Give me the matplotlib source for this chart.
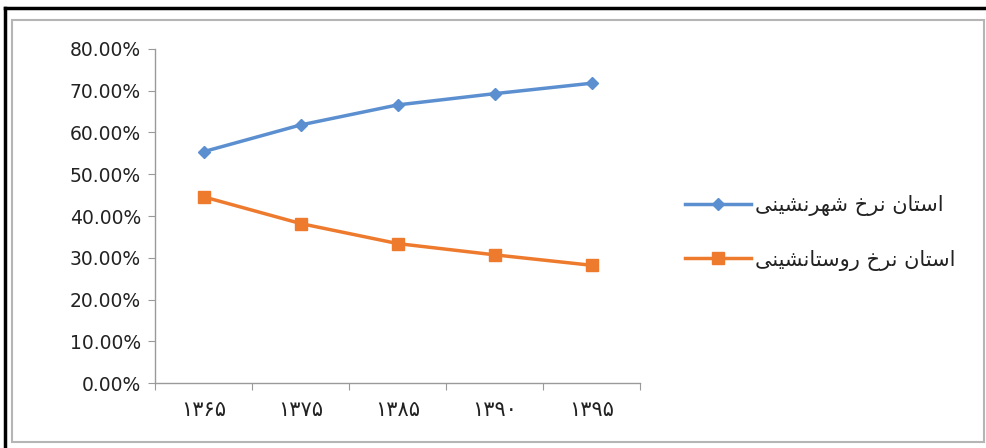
#!/usr/bin/env python3
"""Urban vs. rural population share of the province, 1365-1395 (Persian calendar)."""

import matplotlib.pyplot as plt
from matplotlib.patches import Rectangle
from matplotlib.ticker import FixedLocator, PercentFormatter

# Census years (Persian digits) and shares.
YEARS = ["۱۳۶۵", "۱۳۷۵", "۱۳۸۵", "۱۳۹۰", "۱۳۹۵"]
URBAN = [0.554, 0.618, 0.666, 0.693, 0.718]
RURAL = [0.446, 0.382, 0.334, 0.307, 0.282]
URBAN_LABEL = "استان نرخ شهرنشینی"
RURAL_LABEL = "استان نرخ روستانشینی"

BLUE = "#5B8FD0"
ORANGE = "#EE7A2E"

# Presentation forms (isolated, final, initial, medial); None = right-joining only.
FORMS = {
    "ا": (0xFE8D, 0xFE8E, None, None),
    "ر": (0xFEAD, 0xFEAE, None, None),
    "و": (0xFEED, 0xFEEE, None, None),
    "س": (0xFEB1, 0xFEB2, 0xFEB3, 0xFEB4),
    "ت": (0xFE95, 0xFE96, 0xFE97, 0xFE98),
    "ن": (0xFEE5, 0xFEE6, 0xFEE7, 0xFEE8),
    "خ": (0xFEA5, 0xFEA6, 0xFEA7, 0xFEA8),
    "ش": (0xFEB5, 0xFEB6, 0xFEB7, 0xFEB8),
    "ه": (0xFEE9, 0xFEEA, 0xFEEB, 0xFEEC),
    "ی": (0xFBFC, 0xFBFD, 0xFBFE, 0xFBFF),
}


def shape(text):
    """Tiny Persian shaper: contextual forms, then reverse for LTR drawing."""
    out = []
    for i, ch in enumerate(text):
        if ch not in FORMS:
            out.append(ch)
            continue
        prev = text[i - 1] if i > 0 else ""
        nxt = text[i + 1] if i + 1 < len(text) else ""
        join_prev = prev in FORMS and FORMS[prev][2] is not None
        join_next = FORMS[ch][2] is not None and nxt in FORMS
        iso, fin, ini, med = FORMS[ch]
        if join_prev and join_next:
            code = med
        elif join_prev:
            code = fin
        elif join_next:
            code = ini
        else:
            code = iso
        out.append(chr(code))
    return "".join(reversed(out))


fig = plt.figure(figsize=(9.86, 4.48), dpi=100)

# Scan frame: black border line on left/top, grey chart-area border.
fig.add_artist(plt.Line2D([5 / 986, 5 / 986], [0, 1 - 8 / 448], color="black", lw=2.5))
fig.add_artist(plt.Line2D([5 / 986, 1], [1 - 8 / 448, 1 - 8 / 448], color="black", lw=2.5))
fig.add_artist(Rectangle((12 / 986, 6 / 448), 972 / 986, 422 / 448,
                         fill=False, edgecolor="#b5b5b5", lw=1.5))

ax = fig.add_axes([155 / 986, 1 - 383 / 448, 485 / 986, 334 / 448])
x = range(len(YEARS))
ax.plot(x, URBAN, color=BLUE, lw=2.5, marker="D", ms=6, label=shape(URBAN_LABEL))
ax.plot(x, RURAL, color=ORANGE, lw=2.5, marker="s", ms=9, label=shape(RURAL_LABEL))

ax.set_ylim(0, 0.8)
ax.set_xlim(-0.5, len(YEARS) - 0.5)
ax.yaxis.set_major_locator(FixedLocator([i / 10 for i in range(9)]))
ax.yaxis.set_major_formatter(PercentFormatter(1.0, decimals=2))

# Category axis: ticks between categories, labels centred.
ax.xaxis.set_major_locator(FixedLocator([i - 0.5 for i in range(len(YEARS) + 1)]))
ax.xaxis.set_major_formatter(plt.NullFormatter())
ax.xaxis.set_minor_locator(FixedLocator(list(x)))
ax.set_xticklabels(YEARS, minor=True)
ax.tick_params(axis="x", which="minor", length=0, pad=12, labelsize=15, colors="#222222")
ax.tick_params(axis="x", which="major", length=5, color="#9a9a9a")
ax.tick_params(axis="y", length=5, color="#9a9a9a", labelsize=13.5, labelcolor="#222222", pad=5)
for lab in ax.get_yticklabels():
    lab.set_family(["DejaVu Sans"])
for lab in ax.get_xticklabels(minor=True):
    lab.set_family(["DejaVu Sans"])

for side in ("top", "right"):
    ax.spines[side].set_visible(False)
for side in ("left", "bottom"):
    ax.spines[side].set_color("#9a9a9a")
    ax.spines[side].set_linewidth(1.0)

leg = fig.legend(loc="center left", bbox_to_anchor=(666 / 986, 1 - 233 / 448),
                 frameon=False, handlelength=3.2, handletextpad=0.15,
                 labelspacing=1.6, prop={"family": "DejaVu Sans", "size": 15})
for t in leg.get_texts():
    t.set_color("#222222")

fig.savefig("out.png", dpi=100)
